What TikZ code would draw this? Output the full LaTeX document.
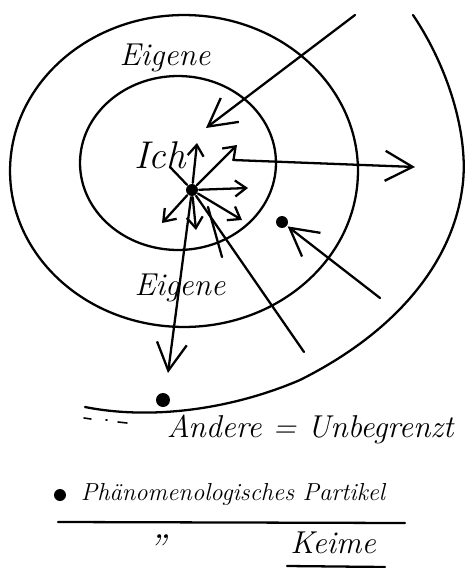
\documentclass[tikz,border=0pt]{standalone}
\usetikzlibrary{arrows.meta}
\begin{document}
\begin{tikzpicture}[
        x=0.02cm, y=-0.02cm,
        line width=1.3pt,
        line cap=round, line join=round,
        every node/.style={font=\itshape\fontsize{18}{20}\selectfont},
        punkt/.style={circle, fill, inner sep=0pt, minimum size=0.24cm},
        fernpfeil/.style={-{Straight Barb[length=5.5mm, width=6mm]}},
        nahpfeil/.style={-{Straight Barb[length=2.2mm, width=3.2mm]}}
    ]
    \useasboundingbox (0,0) rectangle (465,568);

    % Kreise
    \draw (184,171) ellipse [x radius=3.48cm, y radius=3.12cm];
    \draw (178,163) ellipse [x radius=1.96cm, y radius=1.74cm];
    \draw (413,15) .. controls (450,70) and (470,140) .. (462,190)
        .. controls (452,260) and (400,330) .. (300,380)
        .. controls (230,410) and (150,420) .. (85,407);
    \draw[line width=0.9pt] (84,418) -- (91,419);
    \draw[line width=0.9pt] (106,420) -- (107,420);
    \draw[line width=0.9pt] (118,422) -- (127,423);

    \node[punkt] (ich) at (192,190) {};
    \node[punkt] (teilchen) at (282,222) {};
    \node[punkt, minimum size=0.28cm] (anderepunkt) at (163,400) {};

    \node (eigenoben) at (165,58) {Eigene};
    \node[font=\itshape\fontsize{22}{24}\selectfont] (ichtext) at (160,155) {Ich};
    \node (eigenunten) at (180,288) {Eigene};

    % Pfeile vom Ich aus
    \coordinate (hoch) at (197,143);
    \coordinate (rechtsoben) at (237,145);
    \coordinate (rechts) at (248,188);
    \coordinate (rechtsunten) at (242,220);
    \coordinate (linksunten) at (162,223);
    \coordinate (unten) at (196,230);
    \foreach \ziel in {hoch,rechtsoben,rechts,rechtsunten,linksunten,unten}
        \draw[nahpfeil] (ich) -- (\ziel);

    \coordinate (jstrich) at (170,167);
    \coordinate (strahl) at (304,352);
    \coordinate (kurzA) at (208,207);
    \coordinate (kurzB) at (222,257);
    \coordinate (andereziel) at (168,373);
    \draw (jstrich) -- (ich) -- (strahl);
    \draw (kurzA) -- (kurzB);
    \draw[fernpfeil] (ich) -- (andereziel);

    % Pfeile von aussen
    \coordinate (vonoben) at (355,15);
    \coordinate (einfall) at (206,128);
    \coordinate (innen) at (233,160);
    \coordinate (auswaerts) at (415,167);
    \coordinate (aussen) at (380,298);
    \draw[fernpfeil] (vonoben) -- (einfall);
    \draw[fernpfeil] (innen) -- (auswaerts);
    \draw[fernpfeil] (aussen) -- (teilchen);

    % Legende
    \node[anchor=base west] (andere) at (160,437) {Andere = Unbegrenzt};
    \node[punkt] (bullet) at (60,495) {};
    \node[anchor=base west, font=\itshape\fontsize{14}{16}\selectfont] (partikel) at (74,500) {Phänomenologisches Partikel};
    \draw (58,522) -- (405,523);
    \node[font=\itshape\fontsize{22}{24}\selectfont] (ditto) at (157,548) {''};
    \node (keime) at (333,543) {Keime};
    \draw (287,566) -- (385,567);
\end{tikzpicture}
\end{document}
